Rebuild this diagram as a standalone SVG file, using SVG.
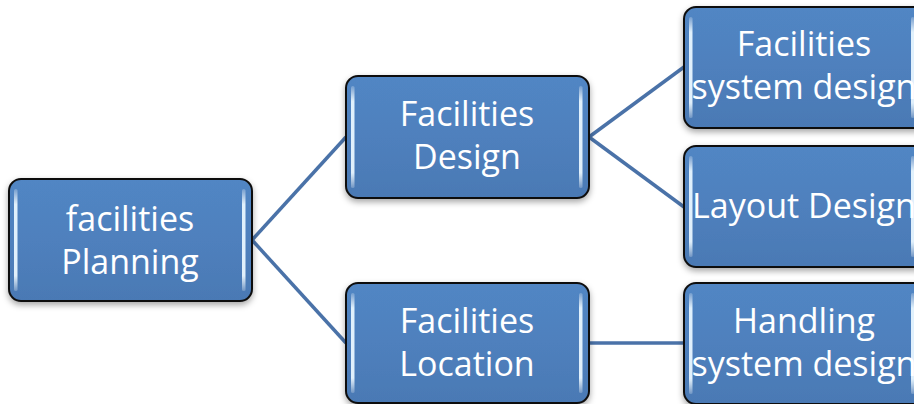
<svg xmlns="http://www.w3.org/2000/svg" width="914" height="404" viewBox="0 0 914 404">
<defs>
<linearGradient id="fill" x1="0" y1="0" x2="0" y2="1">
<stop offset="0" stop-color="#5186c4"/>
<stop offset="0.5" stop-color="#4f80bd"/>
<stop offset="1" stop-color="#4a79b4"/>
</linearGradient>
<linearGradient id="bar" x1="0" y1="0" x2="0" y2="1">
<stop offset="0" stop-color="#ffffff" stop-opacity="0.2"/>
<stop offset="0.15" stop-color="#e8f6ff" stop-opacity="0.95"/>
<stop offset="0.85" stop-color="#e8f6ff" stop-opacity="0.95"/>
<stop offset="1" stop-color="#ffffff" stop-opacity="0.2"/>
</linearGradient>
<filter id="sh" x="-10%" y="-10%" width="120%" height="130%">
<feDropShadow dx="0" dy="3" stdDeviation="3" flood-color="#000" flood-opacity="0.35"/>
</filter>
<filter id="blur"><feGaussianBlur stdDeviation="0.6"/></filter>
</defs>
<style>
.box{fill:url(#fill);stroke:#111;stroke-width:2;filter:url(#sh)}
.bar{fill:url(#bar);filter:url(#blur)}
.t{font-family:"Open Sans","Liberation Sans",sans-serif;font-size:34px;fill:#fff;text-anchor:middle}
.c{stroke:#4a72a8;stroke-width:3.5;fill:none}
</style>
<g id="connectors">
<line class="c" x1="252" y1="240" x2="346" y2="137"/>
<line class="c" x1="252" y1="240" x2="346" y2="343"/>
<line class="c" x1="589" y1="137" x2="684" y2="67"/>
<line class="c" x1="589" y1="137" x2="684" y2="207"/>
<line class="c" x1="589" y1="343" x2="684" y2="343"/>
</g>
<g id="n1">
<rect class="box" x="9" y="179" width="243" height="122" rx="12"/>
<rect class="bar" x="14" y="189" width="3.5" height="102" rx="1.5"/>
<rect class="bar" x="242" y="189" width="3.5" height="102" rx="1.5"/>
<text class="t" x="130" y="231">facilities</text>
<text class="t" x="130" y="274">Planning</text>
</g>
<g id="n2">
<rect class="box" x="346" y="76" width="243" height="122" rx="12"/>
<rect class="bar" x="351" y="86" width="3.5" height="102" rx="1.5"/>
<rect class="bar" x="579" y="86" width="3.5" height="102" rx="1.5"/>
<text class="t" x="467" y="126">Facilities</text>
<text class="t" x="467" y="169">Design</text>
</g>
<g id="n3">
<rect class="box" x="346" y="283" width="243" height="120" rx="12"/>
<rect class="bar" x="351" y="293" width="3.5" height="100" rx="1.5"/>
<rect class="bar" x="579" y="293" width="3.5" height="100" rx="1.5"/>
<text class="t" x="467" y="333">Facilities</text>
<text class="t" x="467" y="376">Location</text>
</g>
<g id="n4">
<rect class="box" x="684" y="7" width="243" height="121" rx="12"/>
<rect class="bar" x="689" y="17" width="3.5" height="101" rx="1.5"/>
<rect class="bar" x="911" y="17" width="3.5" height="101" rx="1.5"/>
<text class="t" x="804" y="56">Facilities</text>
<text class="t" x="804" y="99">system design</text>
</g>
<g id="n5">
<rect class="box" x="684" y="146" width="243" height="121" rx="12"/>
<rect class="bar" x="689" y="156" width="3.5" height="101" rx="1.5"/>
<rect class="bar" x="911" y="156" width="3.5" height="101" rx="1.5"/>
<text class="t" x="804" y="218">Layout Design</text>
</g>
<g id="n6">
<rect class="box" x="684" y="283" width="243" height="121" rx="12"/>
<rect class="bar" x="689" y="293" width="3.5" height="101" rx="1.5"/>
<rect class="bar" x="911" y="293" width="3.5" height="101" rx="1.5"/>
<text class="t" x="804" y="333">Handling</text>
<text class="t" x="804" y="376">system design</text>
</g>
</svg>
